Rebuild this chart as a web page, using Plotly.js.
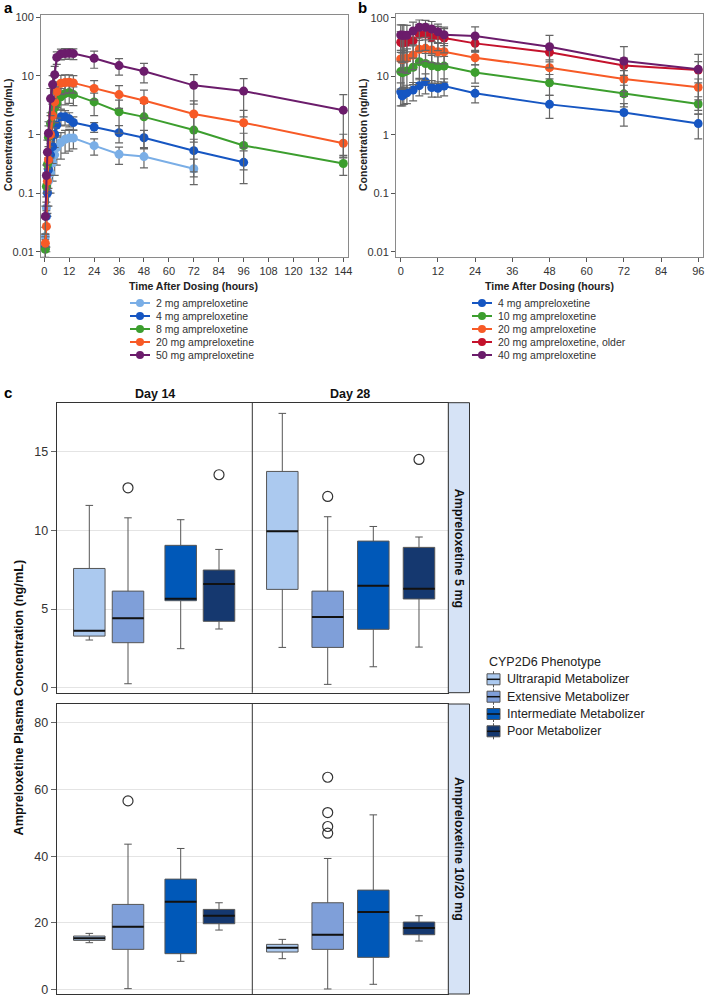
<!DOCTYPE html>
<html><head><meta charset="utf-8">
<script src="https://cdn.plot.ly/plotly-3.0.1.min.js"></script>
<style>html,body{margin:0;padding:0;background:#fff}#chart{width:705px;height:996px}</style>
</head><body><div id="chart"></div>
<script>
// ---------- Panel a data (single dose) ----------
const tA = [0.5, 1, 1.5, 2, 3, 4, 5, 6, 8, 10, 12, 14, 24, 36, 48, 72, 96, 144];
const a_2mg  = [0.018, 0.056, 0.105, 0.16, 0.22, 0.33, 0.45, 0.6, 0.73, 0.83, 0.87, 0.87, 0.645, 0.46, 0.42, 0.26, null, null];
const a_2sd  = [0.008, 0.03, 0.06, 0.1, 0.12, 0.17, 0.25, 0.3, 0.35, 0.35, 0.35, 0.3, 0.2, 0.15, 0.15, 0.12, null, null];
const a_4mg  = [0.012, 0.04, 0.1, 0.25, 0.45, 0.62, 1.0, 1.45, 2.0, 2.0, 1.85, 1.6, 1.34, 1.07, 0.88, 0.53, 0.335, null];
const a_4sd  = [0.006, 0.03, 0.06, 0.15, 0.25, 0.3, 0.4, 0.5, 0.6, 0.55, 0.5, 0.4, 0.25, 0.35, 0.3, 0.3, 0.19, null];
const a_8mg  = [0.011, 0.13, 0.31, 0.9, 1.55, 2.3, 2.9, 3.4, 4.4, 5.0, 5.2, 4.8, 3.6, 2.45, 2.0, 1.19, 0.65, 0.32];
const a_8sd  = [0.005, 0.08, 0.2, 0.5, 0.8, 1.0, 1.3, 1.5, 1.7, 1.8, 1.8, 1.7, 1.5, 1.4, 1.4, 1.0, 0.4, 0.12];
const a_20mg = [0.014, 0.027, 0.16, 0.37, 1.0, 2.1, 3.6, 5.4, 7.5, 7.7, 7.8, 7.6, 6.1, 4.8, 3.8, 2.24, 1.59, 0.71];
const a_20sd = [0.006, 0.015, 0.1, 0.25, 0.6, 1.2, 2.0, 2.5, 2.7, 2.7, 2.6, 2.5, 2.2, 2.0, 1.9, 1.5, 1.0, 0.3];
const a_50mg = [0.04, 0.2, 0.5, 1.05, 4.1, 7.1, 10.5, 20.7, 23.7, 24.1, 24.3, 24.0, 20.0, 15.0, 12.0, 6.9, 5.5, 2.6];
const a_50sd = [0.02, 0.1, 0.3, 0.6, 2.0, 3.0, 4.0, 5.0, 5.0, 5.0, 5.0, 5.0, 6.5, 4.7, 4.4, 3.6, 3.5, 2.2];
const a_labels = ['2 mg ampreloxetine', '4 mg ampreloxetine', '8 mg ampreloxetine', '20 mg ampreloxetine', '50 mg ampreloxetine'];

// ---------- Panel b data (multiple dose) ----------
const tB = [0, 0.5, 1, 2, 4, 6, 8, 10, 12, 14, 24, 48, 72, 96];
const b_4mg   = [5.4, 4.6, 4.9, 5.2, 5.8, 6.9, 8.0, 6.4, 6.2, 6.8, 5.1, 3.3, 2.4, 1.55];
const b_4sd   = [2.3, 1.5, 1.6, 1.8, 2.0, 2.3, 3.0, 2.0, 1.8, 2.2, 1.6, 1.4, 1.0, 0.7];
const b_10mg  = [12.0, 11.5, 11.8, 12.3, 14.2, 17.7, 16.5, 15.1, 14.5, 14.9, 11.6, 7.7, 5.0, 3.35];
const b_10sd  = [6, 5.5, 5.5, 6, 7, 9, 8, 7.5, 7, 7, 4, 3, 2, 1.1];
const b_20mg  = [19.7, 19.5, 19.8, 20.2, 23.0, 28.8, 29.9, 28.0, 26.2, 26.2, 20.7, 14.0, 8.95, 6.45];
const b_20sd  = [8, 8, 8, 9, 10, 12, 12, 11, 10, 10, 5, 5, 3.5, 2.5];
const b_20old = [38.0, 37.0, 37.5, 38.0, 40.4, 51.9, 52.7, 46.1, 49.3, 45.0, 36.4, 25.6, 15.3, 12.7];
const b_20osd = [20, 20, 20, 20, 20, 25, 25, 22, 22, 20, 10, 8, 5, 5];
const b_40mg  = [50.6, 50.0, 50.0, 50.0, 59.2, 68.3, 68.3, 64.0, 57.6, 51.2, 48.6, 31.9, 18.2, 13.1];
const b_40sd  = [25, 25, 25, 24, 25, 23, 22, 22, 20, 18, 21, 18, 13.7, 10.5];
const b_labels = ['4 mg ampreloxetine', '10 mg ampreloxetine', '20 mg ampreloxetine', '20 mg ampreloxetine, older', '40 mg ampreloxetine'];

// ---------- Panel c data (box statistics) ----------
const phenotypes = ['Ultrarapid Metabolizer', 'Extensive Metabolizer', 'Intermediate Metabolizer', 'Poor Metabolizer'];
const days = ['Day 14', 'Day 28'];
const rowLabels = ['Ampreloxetine 5 mg', 'Ampreloxetine 10/20 mg'];
// 5 mg, Day 14
const lo5_d14  = [3.03, 0.25, 2.48, 3.73];
const q1_5_d14 = [3.28, 2.86, 5.53, 4.22];
const md5_d14  = [3.62, 4.41, 5.66, 6.59];
const q3_5_d14 = [7.58, 6.14, 9.05, 7.48];
const hi5_d14  = [11.59, 10.8, 10.68, 8.79];
// 5 mg, Day 28
const lo5_d28  = [2.56, 0.21, 1.33, 2.58];
const q1_5_d28 = [6.25, 2.56, 3.71, 5.64];
const md5_d28  = [9.94, 4.49, 6.48, 6.29];
const q3_5_d28 = [13.75, 6.14, 9.32, 8.92];
const hi5_d28  = [17.44, 10.87, 10.25, 9.58];
// 10/20 mg, Day 14
const lo20_d14  = [14.0, 0.2, 8.4, 17.8];
const q1_20_d14 = [14.7, 12.0, 10.7, 19.7];
const md20_d14  = [15.3, 18.8, 26.3, 22.1];
const q3_20_d14 = [16.0, 25.5, 33.1, 24.0];
const hi20_d14  = [16.8, 43.6, 42.3, 26.0];
// 10/20 mg, Day 28
const lo20_d28  = [9.2, 0.1, 1.5, 14.5];
const q1_20_d28 = [11.2, 12.0, 9.6, 16.4];
const md20_d28  = [12.5, 16.4, 23.2, 18.4];
const q3_20_d28 = [13.5, 26.0, 29.8, 20.2];
const hi20_d28  = [15.0, 39.3, 52.4, 22.1];
// outliers
const out5_day   = ['Day 14', 'Day 14', 'Day 28', 'Day 28'];
const out5_ph    = [1, 3, 1, 3];
const out5_val   = [12.71, 13.54, 12.16, 14.51];
const out20_day  = ['Day 14', 'Day 28', 'Day 28', 'Day 28', 'Day 28'];
const out20_ph   = [1, 1, 1, 1, 1];
const out20_val  = [56.6, 63.7, 53.1, 48.9, 46.9];

// ---------- styles / layout constants ----------
const W = 705, H = 996;
const px = v => v / W, py = v => 1 - v / H;
const FONT = 'Liberation Sans, Arial, Helvetica, sans-serif';
const colA = ['#7aaee6', '#1656c2', '#3c9e2e', '#f75a26', '#6b1c6b'];
const colB = ['#1656c2', '#3c9e2e', '#f75a26', '#c4122c', '#6b1c6b'];
const colC = ['#abc9ef', '#7f9fd9', '#0058b8', '#15386f'];
const slotX = {'Day 14': [32.6, 71.3, 124, 162.3], 'Day 28': [225.6, 271, 316.6, 362.3]};
const boxW = 31.5;

const traces = [];
function lineTraces(t, ys, sds, cols, xa, ya) {
  ys.forEach((y, i) => {
    traces.push({
      type: 'scatter', mode: 'lines+markers', x: t, y: y, xaxis: xa, yaxis: ya,
      line: {color: cols[i], width: 2}, marker: {color: cols[i], size: 9},
      error_y: {type: 'data', array: sds[i], visible: true, color: '#666', thickness: 1.2, width: 4},
      hoverinfo: 'skip', showlegend: false, cliponaxis: true
    });
  });
}
lineTraces(tA, [a_2mg, a_4mg, a_8mg, a_20mg, a_50mg], [a_2sd, a_4sd, a_8sd, a_20sd, a_50sd], colA, 'x', 'y');
lineTraces(tB, [b_4mg, b_10mg, b_20mg, b_20old, b_40mg], [b_4sd, b_10sd, b_20sd, b_20osd, b_40sd], colB, 'x2', 'y2');

const rowStats = [
  {d14: [lo5_d14, q1_5_d14, md5_d14, q3_5_d14, hi5_d14], d28: [lo5_d28, q1_5_d28, md5_d28, q3_5_d28, hi5_d28],
   out: [out5_day, out5_ph, out5_val], xa: 'x3', ya: 'y3'},
  {d14: [lo20_d14, q1_20_d14, md20_d14, q3_20_d14, hi20_d14], d28: [lo20_d28, q1_20_d28, md20_d28, q3_20_d28, hi20_d28],
   out: [out20_day, out20_ph, out20_val], xa: 'x4', ya: 'y4'}
];
rowStats.forEach(r => {
  const mx = [], my = [];
  phenotypes.forEach((p, i) => {
    const xs = [slotX['Day 14'][i], slotX['Day 28'][i]];
    traces.push({
      type: 'box', name: p, x: xs, xaxis: r.xa, yaxis: r.ya,
      lowerfence: [r.d14[0][i], r.d28[0][i]], q1: [r.d14[1][i], r.d28[1][i]],
      median: [r.d14[2][i], r.d28[2][i]], q3: [r.d14[3][i], r.d28[3][i]],
      upperfence: [r.d14[4][i], r.d28[4][i]],
      width: boxW, whiskerwidth: 0.24, fillcolor: colC[i],
      line: {color: '#555', width: 1}, boxpoints: false, hoverinfo: 'skip', showlegend: false
    });
    [['Day 14', r.d14], ['Day 28', r.d28]].forEach(([d, s]) => {
      const xc = slotX[d][i];
      mx.push(xc - boxW / 2, xc + boxW / 2, null);
      my.push(s[2][i], s[2][i], null);
    });
  });
  traces.push({type: 'scatter', mode: 'lines', x: mx, y: my, xaxis: r.xa, yaxis: r.ya,
    line: {color: '#111', width: 2}, hoverinfo: 'skip', showlegend: false});
  traces.push({type: 'scatter', mode: 'markers', xaxis: r.xa, yaxis: r.ya,
    x: r.out[0].map((d, k) => slotX[d][r.out[1][k]]), y: r.out[2],
    marker: {symbol: 'circle-open', size: 10, color: '#333', line: {width: 1.2}},
    hoverinfo: 'skip', showlegend: false});
});

// ---------- axes ----------
const tickFont = {family: FONT, size: 11, color: '#333'};
const logAxis = (top, bottom, rng) => ({
  domain: [py(bottom), py(top)], type: 'log', range: rng,
  tickvals: [0.01, 0.1, 1, 10, 100], ticktext: ['0.01', '0.1', '1', '10', '100'],
  ticks: 'outside', ticklen: 4, tickcolor: '#555', showline: true, mirror: true,
  linecolor: '#8a8a8a', linewidth: 1, showgrid: false, zeroline: false, tickfont: tickFont
});
const timeAxis = (l, r, rng) => ({
  domain: [px(l), px(r)], range: rng, tickmode: 'linear', tick0: 0, dtick: 12,
  ticks: 'outside', ticklen: 4, tickcolor: '#555', showline: true, mirror: true,
  linecolor: '#8a8a8a', linewidth: 1, showgrid: false, zeroline: false, tickfont: tickFont,
  ticklabeloverflow: 'allow'
});
const boxX = (anchor) => ({domain: [px(56.7), px(448.3)], range: [0, 391.6], showticklabels: false, ticks: '',
  showline: true, mirror: true, linecolor: '#333', linewidth: 1, showgrid: false, zeroline: false, anchor: anchor});
const boxY = (top, bottom, rng, tv, anchor) => ({domain: [py(bottom), py(top)], range: rng, tickvals: tv,
  ticks: 'outside', ticklen: 5, tickcolor: '#666', showline: true, mirror: true, linecolor: '#333', linewidth: 1,
  showgrid: true, gridcolor: '#e4e4e4', gridwidth: 1, zeroline: false, anchor: anchor,
  ticklabeloverflow: 'allow',
  tickfont: {family: FONT, size: 12.5, color: '#333'}});

const shapes = [], annotations = [];
const ann = (o) => annotations.push(Object.assign({showarrow: false, xref: 'paper', yref: 'paper'}, o));

// titles and panel letters
ann({text: '<b>a</b>', x: px(2), y: py(8), xanchor: 'left', yanchor: 'middle', font: {family: FONT, size: 15, color: '#000'}});
ann({text: '<b>b</b>', x: px(356), y: py(8), xanchor: 'left', yanchor: 'middle', font: {family: FONT, size: 15, color: '#000'}});
ann({text: '<b>c</b>', x: px(2), y: py(392), xanchor: 'left', yanchor: 'middle', font: {family: FONT, size: 15, color: '#000'}});
ann({text: '<b>Concentration (ng/mL)</b>', x: px(8), y: py(135), textangle: -90, xanchor: 'center', yanchor: 'middle', font: {family: FONT, size: 10.5, color: '#222'}});
ann({text: '<b>Concentration (ng/mL)</b>', x: px(363), y: py(135), textangle: -90, xanchor: 'center', yanchor: 'middle', font: {family: FONT, size: 10.5, color: '#222'}});
ann({text: '<b>Time After Dosing (hours)</b>', x: px(193.8), y: py(286), xanchor: 'center', yanchor: 'middle', font: {family: FONT, size: 10.5, color: '#222'}});
ann({text: '<b>Time After Dosing (hours)</b>', x: px(549.5), y: py(286), xanchor: 'center', yanchor: 'middle', font: {family: FONT, size: 10.5, color: '#222'}});

// manual legends for a and b
const rowsAB = [303, 316, 329, 342, 355];
function lineLegend(labels, cols, x0, x1, tx) {
  labels.forEach((lab, i) => {
    const yy = rowsAB[i];
    shapes.push({type: 'line', xref: 'paper', yref: 'paper', x0: px(x0), x1: px(x1), y0: py(yy), y1: py(yy), line: {color: cols[i], width: 2}});
    shapes.push({type: 'circle', xref: 'paper', yref: 'paper', xsizemode: 'pixel', ysizemode: 'pixel',
      xanchor: px((x0 + x1) / 2), yanchor: py(yy), x0: -4, x1: 4, y0: -4, y1: 4, fillcolor: cols[i], line: {width: 0}});
    ann({text: lab, x: px(tx), y: py(yy), xanchor: 'left', yanchor: 'middle', font: {family: FONT, size: 10.5, color: '#333'}});
  });
}
lineLegend(a_labels, colA, 130, 150, 154);
lineLegend(b_labels, colB, 472, 492, 496);

// panel c decorations
const rowGeom = [{top: 402.7, bottom: 692.7, ya: 'y3', xa: 'x3'}, {top: 704, bottom: 994, ya: 'y4', xa: 'x4'}];
rowGeom.forEach((g, r) => {
  shapes.push({type: 'line', xref: g.xa, yref: g.ya + ' domain', x0: 195.6, x1: 195.6, y0: 0, y1: 1, line: {color: '#333', width: 1}});
  shapes.push({type: 'rect', xref: 'paper', yref: g.ya + ' domain', x0: px(448.3), x1: px(469.5), y0: 0, y1: 1,
    fillcolor: '#d6e3f6', line: {color: '#333', width: 1}});
  ann({text: '<b>' + rowLabels[r] + '</b>', x: px(459), y: py((g.top + g.bottom) / 2), textangle: 90,
    xanchor: 'center', yanchor: 'middle', font: {family: FONT, size: 12.5, color: '#111'}});
});
ann({text: '<b>' + days[0] + '</b>', x: px(154.5), y: py(394), xanchor: 'center', yanchor: 'middle', font: {family: FONT, size: 12.5, color: '#111'}});
ann({text: '<b>' + days[1] + '</b>', x: px(350.3), y: py(394), xanchor: 'center', yanchor: 'middle', font: {family: FONT, size: 12.5, color: '#111'}});
ann({text: '<b>Ampreloxetine Plasma Concentration (ng/mL)</b>', x: px(18), y: py(697.5), textangle: -90,
  xanchor: 'center', yanchor: 'middle', font: {family: FONT, size: 12.7, color: '#111'}});

// manual legend for c
ann({text: 'CYP2D6 Phenotype', x: px(486.5), y: py(661.7), xanchor: 'left', yanchor: 'middle', font: {family: FONT, size: 12.5, color: '#222'}});
const rowsC = [679.3, 696.7, 714, 731.3];
phenotypes.forEach((p, i) => {
  const yy = rowsC[i];
  shapes.push({type: 'line', xref: 'paper', yref: 'paper', x0: px(493.5), x1: px(493.5), y0: py(yy - 8), y1: py(yy + 8), line: {color: '#555', width: 1}});
  shapes.push({type: 'rect', xref: 'paper', yref: 'paper', x0: px(487), x1: px(500), y0: py(yy - 5.5), y1: py(yy + 5.5),
    fillcolor: colC[i], line: {color: '#555', width: 1}});
  shapes.push({type: 'line', xref: 'paper', yref: 'paper', x0: px(487), x1: px(500), y0: py(yy), y1: py(yy), line: {color: '#111', width: 1.5}});
  ann({text: p, x: px(505), y: py(yy), xanchor: 'left', yanchor: 'middle', font: {family: FONT, size: 12.5, color: '#222'}});
});

const layout = {
  width: W, height: H, margin: {l: 0, r: 0, t: 0, b: 0},
  paper_bgcolor: '#fff', plot_bgcolor: '#fff', showlegend: false,
  font: {family: FONT, color: '#333'},
  xaxis: Object.assign(timeAxis(41, 348, [-1.59, 146.26]), {anchor: 'y'}),
  yaxis: Object.assign(logAxis(15, 257, [-2.09, 2.039]), {anchor: 'x'}),
  xaxis2: Object.assign(timeAxis(396, 702.7, [-1.52, 97.42]), {anchor: 'y2'}),
  yaxis2: Object.assign(logAxis(14, 257, [-2.09, 2.063]), {anchor: 'x2'}),
  xaxis3: boxX('y3'),
  yaxis3: boxY(402.7, 692.7, [-0.32, 18.12], [0, 5, 10, 15], 'x3'),
  xaxis4: boxX('y4'),
  yaxis4: boxY(704, 994, [-1.41, 85.7], [0, 20, 40, 60, 80], 'x4'),
  shapes: shapes, annotations: annotations
};
Plotly.newPlot('chart', traces, layout, {staticPlot: true, displayModeBar: false});
</script></body></html>
